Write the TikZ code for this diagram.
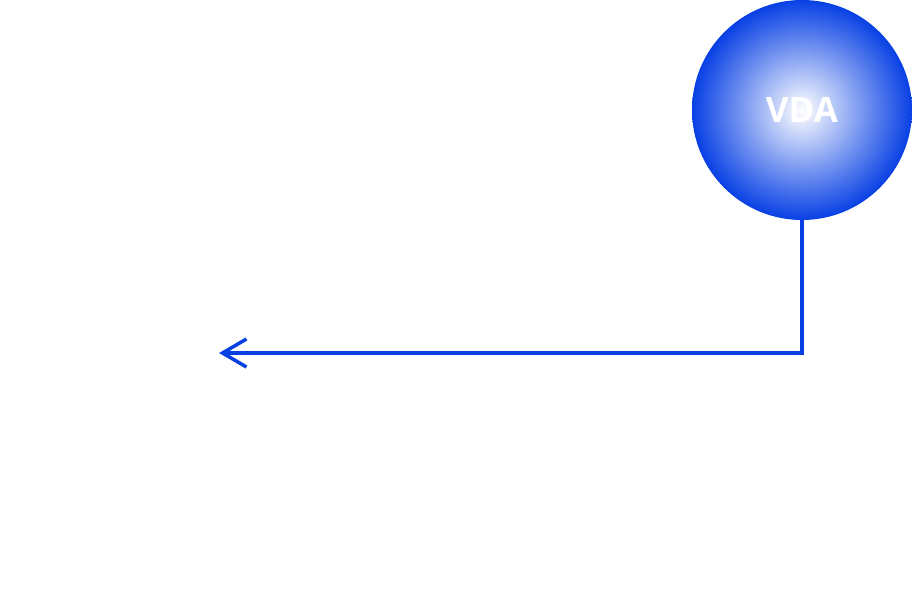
\documentclass[tikz,border=0pt]{standalone}
\usepackage{fontspec}
\newfontfamily\labelfont{Open Sans}
\usetikzlibrary{arrows.meta}
\definecolor{vdablue}{RGB}{8,64,228}
\tikzset{
  ball/.style={circle, minimum size=220pt, inner sep=0pt, shading=radial, inner color=white, outer color=vdablue, text=white, font=\labelfont\bfseries\fontsize{35}{40}\selectfont},
  link/.style={draw=vdablue, line width=3.5pt, -{Straight Barb[length=24pt,width=28pt,line width=3.5pt]}}
}
\begin{document}
\begin{tikzpicture}[x=1pt,y=-1pt]
\useasboundingbox (0,0) rectangle (912,594);
\node[ball] (vda) at (802,110) {VDA};
\coordinate (end) at (219,353);
\coordinate (bend) at (802,353);
\draw[link] (vda.south) -- (bend) -- (end);
\end{tikzpicture}
\end{document}
